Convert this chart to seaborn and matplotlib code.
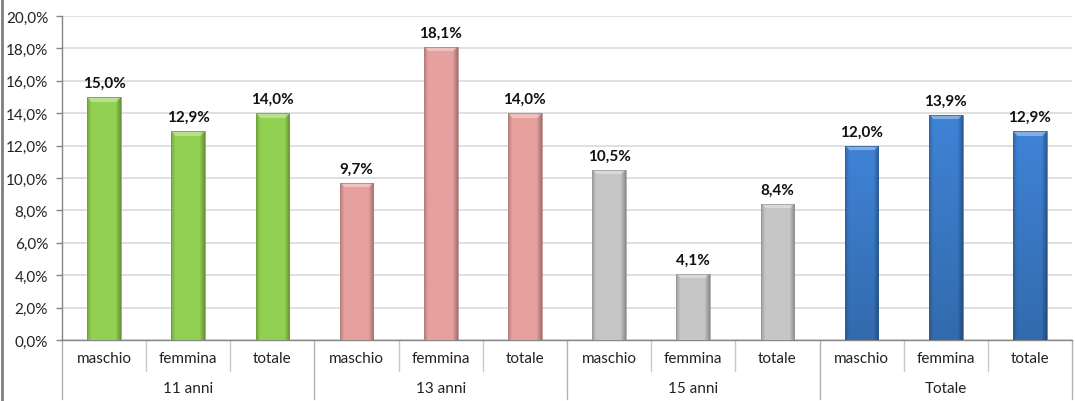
import numpy as np
import pandas as pd
import matplotlib
matplotlib.use("Agg")
import matplotlib.pyplot as plt
import matplotlib.colors as mcolors
from matplotlib.lines import Line2D
import seaborn as sns

# Data
gruppi = ["11 anni", "13 anni", "15 anni", "Totale"]
sottogruppi = ["maschio", "femmina", "totale"]
valori_11 = [15.0, 12.9, 14.0]
valori_13 = [9.7, 18.1, 14.0]
valori_15 = [10.5, 4.1, 8.4]
valori_tot = [12.0, 13.9, 12.9]
y_ticks = [0, 2, 4, 6, 8, 10, 12, 14, 16, 18, 20]

colori = {"11 anni": "#92D050", "13 anni": "#E6A09E",
          "15 anni": "#C6C6C6", "Totale": "#3C7DCC"}

righe = []
for g, vals in zip(gruppi, [valori_11, valori_13, valori_15, valori_tot]):
    for s, v in zip(sottogruppi, vals):
        righe.append({"chiave": f"{g}|{s}", "gruppo": g, "sotto": s, "valore": v})
df = pd.DataFrame(righe)

sns.set_theme(style="white")
plt.rcParams["font.family"] = ["Lato", "DejaVu Sans"]
FS = 11

fig = plt.figure(figsize=(10.75, 4.02), dpi=100)
ax = fig.add_axes([62 / 1075, 61 / 402, 1010 / 1075, 324 / 402])

sns.barplot(data=df, x="chiave", y="valore", hue="gruppo", palette=colori,
            dodge=False, width=0.4, legend=False, ax=ax, zorder=2)

ax.set_ylim(0, 20)
ax.set_xlim(-0.5, len(df) - 0.5)
ax.set_yticks(y_ticks)
ax.set_yticklabels([f"{t:.1f}%".replace(".", ",") for t in y_ticks],
                   fontsize=FS, color="#222222")
ax.yaxis.grid(True, color="#D9D9D9", linewidth=1.2, zorder=0)
ax.set_axisbelow(True)
ax.set_xlabel("")
ax.set_ylabel("")
ax.set_xticks(range(len(df)))
ax.set_xticklabels(df["sotto"], fontsize=FS, color="#222222")
ax.tick_params(axis="x", length=0, pad=8)
ax.tick_params(axis="y", length=4, width=1, color="#868686", direction="out",
               left=True, pad=6)
for side in ["top", "right"]:
    ax.spines[side].set_visible(False)
for side in ["left", "bottom"]:
    ax.spines[side].set_color("#868686")
    ax.spines[side].set_linewidth(1)

# Bevel shading on each bar
px_x = 1010 / len(df)
px_y = 324 / 20
for patch, (_, r) in zip(ax.patches, df.iterrows()):
    x0, w, h = patch.get_x(), patch.get_width(), patch.get_height()
    base = np.array(mcolors.to_rgb(colori[r["gruppo"]]))
    W = max(int(round(w * px_x)), 2)
    H = max(int(round(h * px_y)), 2)
    img = np.zeros((H, W, 3))
    for j in range(H):
        d_top = j
        vert = 1.0
        if r["gruppo"] == "Totale":
            vert = 1.05 - 0.2 * (j / H)
        for i in range(W):
            c = base * vert
            dl, dr = i, W - 1 - i
            if dl < 4:
                c = c * (0.82 + 0.045 * dl)
            if dr < 5:
                c = c * (0.72 + 0.056 * dr)
            if d_top < 5 and dl >= d_top and dr >= d_top:
                c = c + (1 - c) * 0.35
            img[j, i] = np.clip(c, 0, 1)
    im = ax.imshow(img, extent=[x0, x0 + w, 0, h], aspect="auto",
                   interpolation="bilinear", origin="upper", zorder=3)
    im.set_clip_path(patch)
    patch.set_edgecolor(tuple(base * 0.75))
    patch.set_linewidth(0.5)
    patch.set_zorder(4)
    patch.set_facecolor("none")
    ax.annotate(f"{r['valore']:.1f}%".replace(".", ","),
                (x0 + w / 2, h), xytext=(0, 5), textcoords="offset points",
                ha="center", va="bottom", fontsize=FS, fontweight="bold",
                color="#111111")

ax.set_xlim(-0.5, len(df) - 0.5)
ax.set_ylim(0, 20)

# Hierarchical category separators and group labels
tr = ax.get_xaxis_transform()
for k in range(len(gruppi) + 1):
    xb = -0.5 + 3 * k
    ax.add_line(Line2D([xb, xb], [0, -0.182], transform=tr, color="#B0B0B0",
                       linewidth=1, clip_on=False))
for k in range(len(gruppi)):
    for m in (0.5, 1.5):
        xs = 3 * k + m
        ax.add_line(Line2D([xs, xs], [0, -0.0957], transform=tr,
                           color="#C8C8C8", linewidth=1, clip_on=False))
    ax.text(3 * k + 1, -0.148, gruppi[k], transform=tr, ha="center",
            va="center", fontsize=FS, color="#222222")

# Outer frame edge on the left
fig.add_artist(Line2D([0.0015, 0.0015], [0, 1], transform=fig.transFigure,
                      color="#7F7F7F", linewidth=2))

fig.savefig("out.png", dpi=100)
